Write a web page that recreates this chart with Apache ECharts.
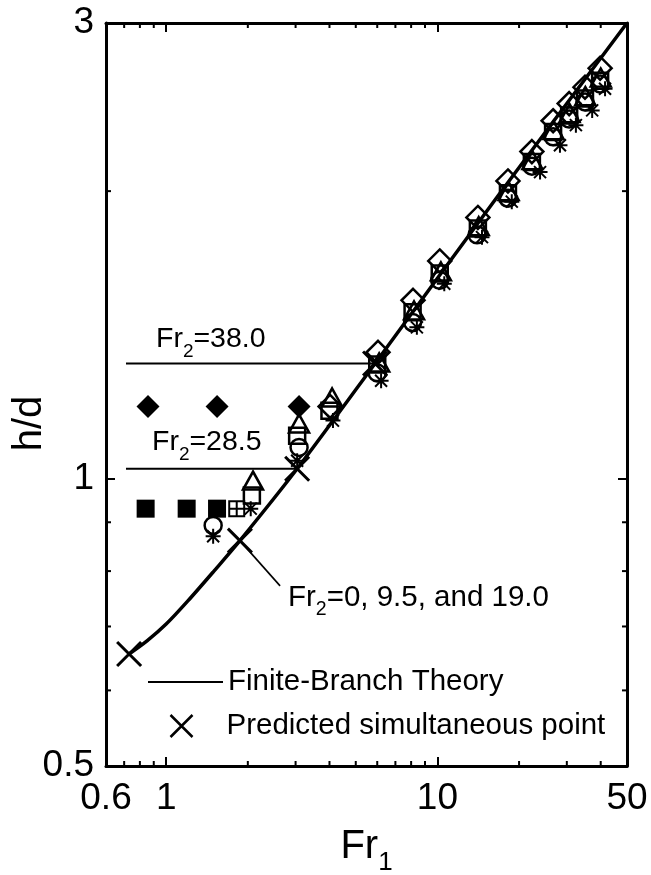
<!DOCTYPE html>
<html>
<head>
<meta charset="utf-8">
<script src="https://cdn.jsdelivr.net/npm/echarts@6.0.0/dist/echarts.min.js"></script>
<style>
html,body{margin:0;padding:0;background:#fff;}
#chart{width:651px;height:875px;}
</style>
</head>
<body>
<div id="chart"></div>
<script>
// ---- data ----
var theoryX = [0.73, 0.85, 1.0, 1.2, 1.5, 1.87, 3.04, 5.89, 17, 50];
var theoryY = [0.655, 0.676, 0.704, 0.744, 0.80, 0.861, 1.024, 1.32, 1.99, 3.0];

var predictedX = [0.73, 1.87, 3.04, 5.89];
var predictedY = [0.655, 0.861, 1.024, 1.32];

var line38X = [0.711, 5.89];
var line38Y = [1.32, 1.32];
var line285X = [0.711, 3.04];
var line285Y = [1.024, 1.024];
var leaderX = [1.87, 2.63];
var leaderY = [0.861, 0.772];

var circleX = [1.49, 3.09, 6.0, 8.1, 10.2, 14.0, 18.2, 22.3, 26.7, 30.6, 35.0, 39.8];
var circleY = [0.893, 1.078, 1.29, 1.457, 1.613, 1.80, 1.966, 2.124, 2.28, 2.38, 2.48, 2.59];

var triangleX = [2.09, 3.09, 4.09, 6.1, 8.2, 10.3, 14.2, 18.3, 22.4, 26.8, 30.7, 35.1, 40.0];
var triangleY = [0.995, 1.142, 1.216, 1.323, 1.50, 1.648, 1.838, 2.0, 2.155, 2.317, 2.414, 2.515, 2.63];

var squareX = [2.07, 3.04, 4.0, 6.0, 8.1, 10.2, 14.1, 18.2, 22.3, 26.7, 30.6, 35.0, 39.8];
var squareY = [0.96, 1.109, 1.178, 1.317, 1.493, 1.64, 1.828, 1.99, 2.145, 2.306, 2.40, 2.50, 2.61];

var diamondX = [4.02, 6.04, 8.13, 10.2, 14.1, 18.2, 22.3, 26.7, 30.6, 35.0, 39.8];
var diamondY = [1.19, 1.356, 1.537, 1.69, 1.877, 2.05, 2.20, 2.37, 2.47, 2.57, 2.69];

var starX = [1.49, 2.05, 3.04, 4.12, 6.2, 8.4, 10.6, 14.6, 18.8, 23.9, 28.3, 32.4, 37.2, 41.5];
var starY = [0.87, 0.93, 1.044, 1.15, 1.266, 1.44, 1.60, 1.79, 1.95, 2.094, 2.234, 2.345, 2.43, 2.56];

var crossSquareX = [1.82];
var crossSquareY = [0.93];

var filledDiamondX = [0.857, 1.54, 3.09];
var filledDiamondY = [1.19, 1.19, 1.19];

var filledSquareX = [0.84, 1.19, 1.54];
var filledSquareY = [0.93, 0.93, 0.93];

var xMinorTicks = [0.7, 0.8, 0.9, 2, 3, 4, 5, 6, 7, 8, 9, 20, 30, 40];
var yMinorTicks = [0.6, 0.7, 0.8, 0.9, 2];

var xRange = [0.6, 50];
var yRange = [0.5, 3];

// ---- helpers ----
function pairs(xs, ys) { return xs.map(function (v, i) { return [v, ys[i]]; }); }
var FONT = 'Liberation Sans, Arial, Helvetica, sans-serif';
var X_PATH = 'path://M0 0L10 10M10 0L0 10';
var STAR_PATH = 'path://M1 1L9 9M9 1L1 9M5 0L5 10M0 5L10 5';
var CROSSSQ_PATH = 'path://M0 0L10 0L10 10L0 10ZM5 0L5 10M0 5L10 5';
var openStyle = { color: 'none', borderColor: '#000', borderWidth: 2.5, opacity: 1 };

function subRich(f, sf, pad) {
  return {
    m: { fontSize: f, fontFamily: FONT, color: '#000', lineHeight: f },
    s: { fontSize: sf, fontFamily: FONT, color: '#000', verticalAlign: 'bottom',
         padding: [pad, 0, 0, 0] }
  };
}

var chart = echarts.init(document.getElementById('chart'), null, { renderer: 'canvas' });

var baseAxis = {
  type: 'log', logBase: 10,
  axisLine: { show: true, lineStyle: { color: '#000', width: 3 } },
  axisTick: { show: true, inside: true, length: 9, lineStyle: { color: '#000', width: 2 } },
  splitLine: { show: false },
  minorTick: { show: false }
};

function minorTickSeries(axisDim, values) {
  return {
    type: 'custom',
    name: axisDim + 'minor',
    silent: true,
    clip: false,
    xAxisIndex: 0, yAxisIndex: 0,
    data: values.map(function (v) { return [v]; }),
    encode: axisDim === 'x' ? { x: 0 } : { y: 0 },
    renderItem: function (params, api) {
      var cs = params.coordSys;
      var v = api.value(0);
      var st = { stroke: '#000', lineWidth: 2 };
      if (axisDim === 'x') {
        var px = api.coord([v, 1])[0];
        return { type: 'group', children: [
          { type: 'line', shape: { x1: px, y1: cs.y + cs.height, x2: px, y2: cs.y + cs.height - 5 }, style: st },
          { type: 'line', shape: { x1: px, y1: cs.y, x2: px, y2: cs.y + 5 }, style: st }
        ] };
      } else {
        var py = api.coord([1, v])[1];
        return { type: 'group', children: [
          { type: 'line', shape: { x1: cs.x, y1: py, x2: cs.x + 5, y2: py }, style: st },
          { type: 'line', shape: { x1: cs.x + cs.width, y1: py, x2: cs.x + cs.width - 5, y2: py }, style: st }
        ] };
      }
    }
  };
}

var option = {
  backgroundColor: '#fff',
  animation: false,
  textStyle: { fontFamily: FONT, color: '#000' },
  grid: { left: 106, right: 24, top: 23, bottom: 109, containLabel: false, outerBoundsMode: 'none' },
  xAxis: [
    Object.assign({}, baseAxis, {
      position: 'bottom', min: xRange[0], max: xRange[1],
      axisLabel: { show: true, fontSize: 37, color: '#000', fontFamily: FONT, margin: 14 },
      name: '{m|Fr}{s|1}', nameLocation: 'middle', nameGap: 52, nameMoveOverlap: false,
      nameTextStyle: { rich: subRich(40, 26, 32) }
    }),
    Object.assign({}, baseAxis, {
      position: 'top', min: xRange[0], max: xRange[1],
      axisLabel: { show: false }
    })
  ],
  yAxis: [
    Object.assign({}, baseAxis, {
      position: 'left', min: yRange[0], max: yRange[1],
      axisLabel: { show: true, fontSize: 37, color: '#000', fontFamily: FONT, margin: 12 },
      name: 'h/d', nameLocation: 'middle', nameGap: 56, nameRotate: 90, nameMoveOverlap: false,
      nameTextStyle: { fontSize: 40, color: '#000', fontFamily: FONT, padding: [0, 58, 0, 0] }
    }),
    Object.assign({}, baseAxis, {
      position: 'right', min: yRange[0], max: yRange[1],
      axisLabel: { show: false }
    })
  ],
  legend: [
    {
      data: [{ name: 'Finite-Branch Theory', icon: 'rect' }], left: 143, top: 662, orient: 'vertical',
      itemWidth: 75, itemHeight: 2, selectedMode: false,
      itemStyle: { color: '#000' },
      textStyle: { fontSize: 29.5, color: '#000', fontFamily: FONT }
    },
    {
      data: ['Predicted simultaneous point'], left: 163, top: 706, orient: 'vertical',
      itemWidth: 22, itemHeight: 22, selectedMode: false,
      itemStyle: { color: 'none', borderColor: '#000', borderWidth: 2.5, opacity: 1 },
      textStyle: { fontSize: 29.5, color: '#000', fontFamily: FONT, padding: [0, 0, 0, 29] }
    }
  ],
  graphic: [
    { type: 'text', left: 156, top: 325, style: { text: '{m|Fr}{s|2}{m|=38.0}', rich: subRich(28.5, 19, 24) } },
    { type: 'text', left: 152, top: 428, style: { text: '{m|Fr}{s|2}{m|=28.5}', rich: subRich(28.5, 19, 24) } },
    { type: 'text', left: 288, top: 583, style: { text: '{m|Fr}{s|2}{m|=0, 9.5, and 19.0}', rich: subRich(29.5, 19.5, 24) } }
  ],
  series: [
    minorTickSeries('x', xMinorTicks),
    minorTickSeries('y', yMinorTicks),
    { name: 'Fr2=38.0 line', type: 'line', data: pairs(line38X, line38Y), symbol: 'none',
      lineStyle: { color: '#000', width: 2 }, silent: true },
    { name: 'Fr2=28.5 line', type: 'line', data: pairs(line285X, line285Y), symbol: 'none',
      lineStyle: { color: '#000', width: 2 }, silent: true },
    { name: 'leader', type: 'line', data: pairs(leaderX, leaderY), symbol: 'none',
      lineStyle: { color: '#000', width: 1.6 }, silent: true },
    { name: 'Finite-Branch Theory', type: 'line', data: pairs(theoryX, theoryY), symbol: 'none',
      smooth: 0.3, lineStyle: { color: '#000', width: 3.5 }, itemStyle: { color: '#000' }, z: 3 },
    { name: 'circle', type: 'scatter', data: pairs(circleX, circleY), symbol: 'circle', symbolSize: 17, itemStyle: openStyle },
    { name: 'triangle', type: 'scatter', data: pairs(triangleX, triangleY), symbol: 'triangle', symbolSize: [20, 18], itemStyle: openStyle },
    { name: 'square', type: 'scatter', data: pairs(squareX, squareY), symbol: 'rect', symbolSize: 16, itemStyle: openStyle },
    { name: 'diamond', type: 'scatter', data: pairs(diamondX, diamondY), symbol: 'diamond', symbolSize: [23, 23], itemStyle: openStyle },
    { name: 'star', type: 'scatter', data: pairs(starX, starY), symbol: STAR_PATH, symbolSize: 15,
      itemStyle: { color: 'none', borderColor: '#000', borderWidth: 2, opacity: 1 } },
    { name: 'crossSquare', type: 'scatter', data: pairs(crossSquareX, crossSquareY), symbol: CROSSSQ_PATH, symbolSize: 15,
      itemStyle: { color: 'none', borderColor: '#000', borderWidth: 2, opacity: 1 } },
    { name: 'filledDiamond', type: 'scatter', data: pairs(filledDiamondX, filledDiamondY), symbol: 'diamond', symbolSize: [23, 23],
      itemStyle: { color: '#000', opacity: 1 } },
    { name: 'filledSquare', type: 'scatter', data: pairs(filledSquareX, filledSquareY), symbol: 'rect', symbolSize: 18,
      itemStyle: { color: '#000', opacity: 1 } },
    { name: 'Predicted simultaneous point', type: 'scatter', data: pairs(predictedX, predictedY), symbol: X_PATH, symbolSize: 24,
      itemStyle: { color: 'none', borderColor: '#000', borderWidth: 3, opacity: 1 }, z: 4 }
  ]
};
chart.setOption(option);
</script>
</body>
</html>
